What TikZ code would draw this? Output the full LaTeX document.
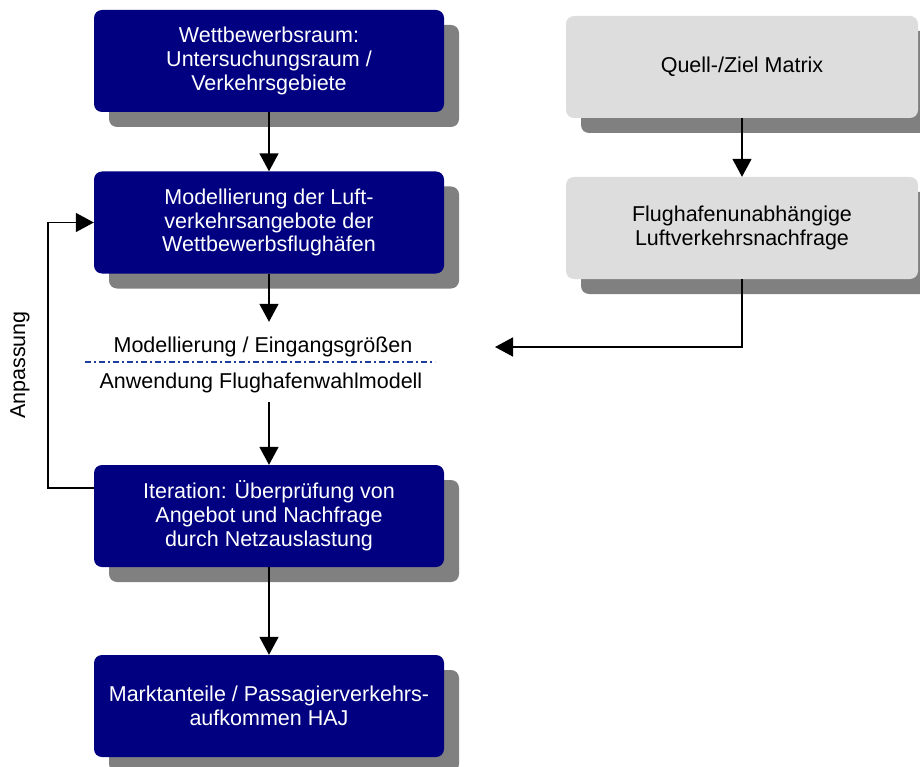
\documentclass[tikz,border=0pt]{standalone}
\usepackage{fontspec}
\setmainfont{Liberation Sans}
\usetikzlibrary{arrows.meta,shadows}
\definecolor{boxblue}{HTML}{000080}
\definecolor{boxgray}{HTML}{DDDDDD}
\definecolor{shadowgray}{HTML}{808080}
\definecolor{sepblue}{HTML}{1F3FA0}
\tikzset{
  stage/.style={rectangle, rounded corners=8pt, minimum width=350pt, minimum height=102pt,
    align=center, font=\fontsize{21.5}{23.8}\selectfont,
    drop shadow={shadow xshift=15pt, shadow yshift=-15pt, fill=shadowgray, opacity=1}},
  bluestage/.style={stage, fill=boxblue, text=white},
  graystage/.style={stage, fill=boxgray, text=black, minimum width=352pt},
  plain/.style={font=\fontsize{21.5}{23.8}\selectfont, inner sep=0pt},
  arr/.style={-{Triangle[length=18pt,width=19pt]}, line width=1.6pt}
}
\begin{document}
\begin{tikzpicture}[x=1pt, y=-1pt]
  \useasboundingbox (0,0) rectangle (920,767);

  % left column
  \node[bluestage] (raum) at (269,61) {Wettbewerbsraum:\\Untersuchungsraum /\\Verkehrsgebiete};
  \node[bluestage] (angebot) at (269,222.5) {Modellierung der Luft-\\verkehrsangebote der\\Wettbewerbsflughäfen};
  \node[plain, minimum height=50pt] (modell) at (263,347) {Modellierung / Eingangsgrößen};
  \node[plain, minimum height=38pt] (anwend) at (261,383) {Anwendung Flughafenwahlmodell};
  \node[bluestage] (iter) at (269,516) {Iteration: Überprüfung von\\Angebot und Nachfrage\\durch Netzauslastung};
  \node[bluestage] (markt) at (269,706) {Marktanteile / Passagierverkehrs-\\aufkommen HAJ};

  % right column
  \node[graystage] (quelle) at (742,67) {Quell-/Ziel Matrix};
  \node[graystage] (nachfrage) at (742,228) {Flughafenunabhängige\\Luftverkehrsnachfrage};
  \coordinate (eingang) at (495,347);

  \draw[sepblue, line width=1.5pt, dash pattern=on 6pt off 3pt on 2pt off 3pt] (85,362) -- (435,362);

  \draw[arr] (raum) -- (angebot);
  \draw[arr] (angebot.south) -- (angebot.south |- modell.north);
  \draw[arr] (iter.north |- anwend.south) -- (iter.north);
  \draw[arr] (iter) -- (markt);
  \draw[arr] (quelle) -- (nachfrage);
  \draw[arr] (nachfrage.south) |- (eingang);

  % Anpassung
  \draw[arr] ([yshift=28pt]iter.west) -- ++(-46,0) |- (angebot.west);
  \node[plain, rotate=90] (anpass) at (20,365) {Anpassung};
\end{tikzpicture}
\end{document}
